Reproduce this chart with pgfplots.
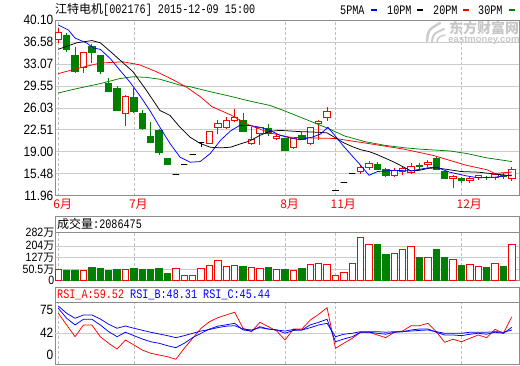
\documentclass[border=0pt]{standalone}
\usepackage{pgfplots}
\pgfplotsset{compat=1.18}
\usepgfplotslibrary{statistics}
\usepackage{fontspec}
\setmainfont{Liberation Sans}
\newfontfamily\cjkf{Noto Sans CJK SC}
\newfontfamily\monof{Liberation Mono}[FakeStretch=0.78]
\newfontfamily\tickf{Liberation Sans}[FakeStretch=0.88]
\newcommand\tk{\tickf\fontsize{13.5pt}{14pt}\selectfont}
\newcommand\tkv{\tickf\fontsize{12pt}{12pt}\selectfont}
\newcommand\cj{\cjkf\fontsize{12pt}{13pt}\selectfont}
\newcommand\wan{\raisebox{0pt}[8pt][0pt]{\cjkf\fontsize{11pt}{11pt}\selectfont 万}}
\newcommand\mo{\monof\fontsize{13pt}{14pt}\selectfont}
\definecolor{dgreen}{HTML}{008000}
\definecolor{mred}{HTML}{FF0000}
\definecolor{mblue}{HTML}{0000FF}
\newcommand\cu[5]{\addplot[up,boxplot prepared={draw position=#1,lower whisker=#4,lower quartile=#2,median=#5,upper quartile=#5,upper whisker=#3}] coordinates {};}
\newcommand\cd[5]{\addplot[dn,boxplot prepared={draw position=#1,lower whisker=#4,lower quartile=#5,median=#5,upper quartile=#2,upper whisker=#3}] coordinates {};}
\newcommand\cf[3]{\addplot[fl,boxplot prepared={draw position=#1,lower whisker=#3,lower quartile=#2,median=#2,upper quartile=#2,upper whisker=#2}] coordinates {};}
\pgfplotsset{
  panel/.style={scale only axis, width=464pt, xmin=-0.39, xmax=54.85,
    axis line style={draw=black!45}, tick style={draw=none}, major tick length=0pt,
    xtick={0,9,27,33,48}, xmajorgrids,
    x grid style={black!25, dash pattern=on 3pt off 2pt},
    y grid style={black!20},
    yticklabel style={font=\tk, inner sep=1.5pt}},
  up/.style={draw=mred, fill=white, line width=0.9pt},
  dn/.style={draw=dgreen, fill=dgreen, line width=0.9pt},
  fl/.style={draw=black, line width=1pt},
}
\begin{document}
\begin{tikzpicture}
\useasboundingbox (0,0) rectangle (520pt,365pt);
% ---------------- price panel ----------------
\begin{axis}[panel, at={(55pt,169.5pt)}, anchor=south west, height=175.5pt,
  ymin=11.96, ymax=40.10,
  ytick={11.96,15.4775,18.995,22.5125,26.03,29.5475,33.065,36.5825,40.10},
  yticklabels={11.96,15.48,19.00,22.51,26.03,29.55,33.07,36.58,40.10},
  ymajorgrids,
  xticklabels={6月,7月,8月,11月,12月},
  xticklabel style={font=\cj, text=mred, anchor=north west, xshift=-5pt, yshift=-3pt, inner sep=0pt},
  boxplot/draw direction=y, boxplot/box extend=0.75, boxplot/whisker extend=0]
\cu{0}{37.00}{38.77}{36.35}{38.12}
\cd{1}{37.69}{37.96}{35.00}{35.39}
\cd{2}{34.47}{35.81}{31.60}{31.79}
\cu{3}{32.49}{35.00}{31.53}{34.91}
\cd{4}{35.92}{36.24}{33.14}{34.91}
\cd{5}{34.47}{34.47}{31.37}{31.79}
\cd{6}{29.92}{30.73}{28.57}{28.57}
\cd{7}{29.12}{29.49}{25.63}{25.63}
\cu{8}{25.10}{28.04}{23.06}{27.77}
\cd{9}{27.67}{29.12}{25.20}{25.36}
\cd{10}{25.10}{25.74}{22.52}{22.78}
\cd{11}{21.45}{23.75}{20.53}{20.53}
\cd{12}{22.41}{22.69}{18.39}{18.92}
\cd{13}{17.86}{17.86}{16.95}{16.95}
\cf{14}{15.33}{15.33}
\cf{15}{16.86}{16.86}
\cf{16}{18.55}{18.55}
\cf{17}{20.40}{19.70}
\cu{18}{20.37}{22.30}{20.37}{22.25}
\cu{19}{22.94}{24.13}{21.88}{23.49}
\cu{20}{22.94}{24.55}{22.69}{24.02}
\cu{21}{24.02}{25.90}{23.75}{24.55}
\cd{22}{24.02}{25.20}{22.30}{22.30}
\cu{23}{20.37}{22.94}{19.98}{20.92}
\cu{24}{21.88}{22.94}{19.98}{22.85}
\cd{25}{22.69}{23.49}{21.45}{21.88}
\cu{26}{21.08}{21.88}{20.80}{21.45}
\cd{27}{21.08}{21.25}{19.10}{19.20}
\cu{28}{19.63}{21.08}{19.48}{21.08}
\cd{29}{21.60}{22.10}{20.80}{20.95}
\cu{30}{20.27}{22.85}{20.00}{22.85}
\cu{31}{23.49}{24.13}{20.92}{23.86}
\cu{32}{24.46}{26.16}{23.90}{25.36}
\cf{33}{12.77}{12.77}
\cf{34}{14.05}{14.05}
\cf{35}{15.45}{15.45}
\cu{36}{15.87}{16.78}{15.45}{16.41}
\cu{37}{16.41}{17.48}{15.98}{17.16}
\cd{38}{16.95}{17.33}{16.10}{16.14}
\cd{39}{16.14}{16.41}{14.90}{15.17}
\cu{40}{15.17}{16.41}{15.00}{15.98}
\cu{41}{15.81}{16.50}{15.17}{16.25}
\cu{42}{15.71}{17.16}{15.45}{16.62}
\cd{43}{16.80}{17.16}{15.98}{16.60}
\cu{44}{16.89}{17.60}{16.60}{17.32}
\cd{45}{17.86}{18.13}{16.14}{16.14}
\cd{46}{15.87}{15.87}{14.64}{14.64}
\cu{47}{14.64}{15.17}{13.14}{15.01}
\cd{48}{14.75}{14.91}{14.00}{14.37}
\cu{49}{14.37}{15.00}{14.00}{14.75}
\cu{50}{14.90}{15.30}{14.50}{15.10}
\cd{51}{14.90}{15.10}{14.50}{14.80}
\cu{52}{14.80}{15.60}{14.50}{15.33}
\cd{53}{15.20}{15.60}{14.60}{15.00}
\cu{54}{14.64}{16.50}{14.30}{16.09}
% MA30 green
\addplot[dgreen, line width=0.75pt] coordinates {(0,28.4) (2.2,29.1) (5,29.9) (7.3,30.7) (8.9,31.0) (10.5,30.9) (12.1,30.6) (14.5,29.65) (15.7,29.4) (18.1,28.6) (20.4,27.9) (22.8,27.1) (25.2,26.4) (26.8,25.6) (29.4,24.2) (31.8,22.9) (34.1,21.5) (36.5,20.6) (38.9,20.0) (41.3,19.6) (43,19.4) (46.6,19.1) (48.6,18.7) (51,18.0) (54,17.4)};
% MA20 red
\addplot[mred, line width=0.75pt] coordinates {(0,31.5) (2.2,32.3) (5,33.2) (7.7,33.4) (9.7,32.9) (11.7,31.8) (13.7,30.5) (15.3,29.3) (16.9,27.8) (18.3,26.2) (20.5,24.9) (22.8,23.2) (25.2,22.0) (27.6,21.3) (30,21.2) (33,21.1) (36.9,20.3) (41.1,19.4) (44.6,18.4) (46.6,17.6) (48.6,16.8) (51,16.1) (52,15.5) (53,15.62) (54,15.72)};
% MA10 black
\addplot[black, line width=0.75pt] coordinates {(0,35.4) (2.2,36.45) (4,36.8) (5,36.45) (6.5,34.7) (8.9,31.8) (10.5,28.8) (12.1,25.6) (13.3,24.8) (14.5,22.9) (15.7,21.3) (16.9,20.3) (18.1,19.7) (19.3,19.6) (20.5,19.7) (21.6,20.2) (22.8,20.7) (24,21.6) (25.2,22.25) (26.4,22.4) (28.8,22.2) (31,22.1) (32,22.0) (33,21.2) (34,20.4) (35,19.8) (36,19.3) (37,19.0) (38,18.5) (39,17.9) (40,17.3) (41,16.6) (42,15.9) (43,16.0) (44,16.3) (45,16.4) (46,16.2) (48,15.8) (50,15.7) (52,15.4) (54,15.12)};
% MA5 blue
\addplot[mblue, line width=0.75pt] coordinates {(0,39.3) (1.2,38.5) (2,37.2) (3.4,36.4) (4.2,35.6) (5,35.4) (6.2,33.9) (7.3,32.1) (8.5,30.2) (9.7,28.0) (10.9,25.6) (12.1,22.9) (13.3,20.3) (14.5,18.1) (15.7,17.3) (16.9,17.4) (18.1,18.7) (19.3,20.8) (20.5,22.3) (21.6,23.2) (22.8,23.2) (24,22.9) (25.2,22.4) (26.4,21.6) (27.6,21.2) (28.8,20.9) (30.2,21.3) (31.2,21.8) (32.1,22.9) (33.1,21.3) (34,19.8) (35,18.3) (36,16.8) (37,15.2) (38,15.8) (40,16.0) (42,15.9) (44,16.4) (45,16.5) (46.6,15.7) (48.6,15.1) (50,14.8) (52,14.9) (54,15.26)};
\end{axis}
% ---------------- volume panel ----------------
\begin{axis}[panel, at={(55pt,84.5pt)}, anchor=south west, height=48pt,
  ymin=-3, ymax=311.8,
  ytick={0,70.2,148.9,224.9,311.5},
  yticklabels={0,50.5\wan,127\wan,204\wan,282\wan},
  yticklabel style={font=\tkv, inner sep=0.5pt},
  ymajorgrids, xticklabels={}]
\addplot[ybar, bar width=0.75, bar shift=0pt, draw=mred, fill=white, line width=0.9pt] coordinates {
(0,72) (3,66) (8,72) (14,79) (15,31) (16,31) (17,74) (18,98) (19,131) (20,90) (21,98) (23,85) (24,79) (26,72) (28,64) (30,105) (31,111) (32,105) (33,31) (34,50) (35,111) (36,280) (37,234) (40,175) (41,203) (42,223) (44,149) (47,138) (49,103) (50,92) (52,111) (54,234)};
\addplot[ybar, bar width=0.75, bar shift=0pt, draw=dgreen, fill=dgreen, line width=0.9pt] coordinates {
(1,66) (2,66) (4,85) (5,74) (6,61) (7,68) (9,74) (10,68) (11,68) (12,74) (13,44) (22,92) (25,81) (27,68) (29,74) (38,236) (39,170) (43,151) (45,199) (46,151) (48,98) (51,85) (53,92)};
\end{axis}
% ---------------- RSI panel ----------------
\begin{axis}[panel, at={(55pt,1pt)}, anchor=south west, height=62pt,
  ymin=9.6, ymax=75,
  ytick={19.1,42,66.6}, yticklabels={0,42,75},
  extra y ticks={42}, extra y tick labels={}, extra y tick style={grid=major},
  xticklabels={}]
\addplot[mred, line width=0.75pt] coordinates {
(0,63.1) (1,50.8) (2,38.4) (3,50.8) (4,50.8) (5,38.4) (6,31.5) (7,25.4) (8,34.9) (9,29.7) (10,24.4) (11,20.9) (12,19.1) (13,17.3) (14,14.6) (15,26.2) (16,36.7) (17,47.3) (18,54.2) (19,58.5) (20,61.3) (21,64.2) (22,47.3) (23,43.7) (24,53.6) (25,49.0) (26,44.4) (27,34.9) (28,46.5) (29,46.5) (30,56.0) (31,62.0) (32,69.0) (33,26.2) (34,31.5) (35,36.7) (36,43.1) (37,43.1) (38,40.2) (39,37.4) (40,43.1) (41,44.4) (42,50.0) (43,50.0) (44,52.5) (45,43.7) (46,32.5) (47,35.7) (48,33.1) (49,36.7) (50,40.2) (51,37.4) (52,46.2) (53,42.0) (54,59.52)};
\addplot[mblue, line width=0.75pt] coordinates {
(0,68.4) (1,57.8) (2,50.8) (3,56.8) (4,56.8) (5,50.8) (6,43.7) (7,38.4) (8,43.1) (9,39.5) (10,36.0) (11,33.1) (12,31.5) (13,28.9) (14,26.8) (15,31.5) (16,37.4) (17,42.0) (18,46.5) (19,49.5) (20,51.0) (21,52.5) (22,45.5) (23,44.4) (24,49.0) (25,46.5) (26,45.5) (27,42.0) (28,45.0) (29,45.5) (30,50.8) (31,53.6) (32,56.8) (33,33.1) (34,36.0) (35,38.4) (36,43.1) (37,43.1) (38,42.0) (39,41.0) (40,43.1) (41,43.7) (42,45.5) (43,46.5) (44,46.5) (45,43.1) (46,40.2) (47,40.2) (48,39.5) (49,41.0) (50,42.0) (51,41.0) (52,43.1) (53,42.0) (54,48.31)};
\addplot[mblue, line width=0.75pt] coordinates {
(0,70.8) (1,63.1) (2,57.8) (3,61.3) (4,61.3) (5,57.1) (6,51.5) (7,47.3) (8,49.7) (9,47.3) (10,45.2) (11,43.1) (12,41.3) (13,39.5) (14,37.4) (15,39.5) (16,42.0) (17,44.4) (18,46.0) (19,48.0) (20,49.5) (21,50.0) (22,46.5) (23,45.5) (24,47.9) (25,46.5) (26,45.5) (27,44.4) (28,46.0) (29,45.5) (30,47.9) (31,50.8) (32,52.5) (33,38.4) (34,41.0) (35,42.0) (36,43.7) (37,43.7) (38,43.7) (39,43.1) (40,43.7) (41,43.7) (42,44.4) (43,45.0) (44,45.5) (45,43.7) (46,42.0) (47,42.0) (48,42.0) (49,43.1) (50,43.1) (51,43.1) (52,43.7) (53,43.1) (54,45.44)};
\end{axis}
% ---------------- headers and texts ----------------
\draw[black!45, fill=white] (55pt,132.5pt) rectangle (519pt,149pt);
\node[anchor=west, inner sep=0pt] at (57pt,141pt) {\cj 成交量\mo :2086475};
\draw[black!45, fill=white] (55pt,63pt) rectangle (519pt,78pt);
\node[anchor=west, inner sep=0pt] at (57pt,70.5pt) {\mo\textcolor{mred}{RSI\_A:59.52} \textcolor{mblue}{RSI\_B:48.31} \textcolor{mblue}{RSI\_C:45.44}};
\node[anchor=west, inner sep=0pt] at (55pt,355pt) {\cj 江特电机\mo [002176] 2015-12-09 15:00};
\node[anchor=west, inner sep=0pt] at (340pt,355pt) {\mo 5PMA};
\fill[mblue] (371pt,353.5pt) rectangle (377pt,356pt);
\node[anchor=west, inner sep=0pt] at (387pt,355pt) {\mo 10PM};
\fill[black] (417pt,353.5pt) rectangle (423pt,356pt);
\node[anchor=west, inner sep=0pt] at (433pt,355pt) {\mo 20PM};
\fill[mred] (463pt,353.5pt) rectangle (469pt,356pt);
\node[anchor=west, inner sep=0pt] at (478pt,355pt) {\mo 30PM};
\fill[dgreen] (509pt,353.5pt) rectangle (515pt,356pt);
% watermark
\draw[black!20, line width=2.5pt, line cap=round] (427pt,324pt) .. controls (428pt,335pt) .. (440pt,342pt);
\draw[black!20, line width=2pt, line cap=round] (432pt,323pt) .. controls (433pt,331pt) .. (444pt,336pt);
\draw[black!20, line width=1.5pt, line cap=round] (437pt,323pt) .. controls (438pt,328pt) .. (445pt,330pt);
\node[text=black!22, inner sep=0pt] at (484pt,336.5pt) {\cjkf\bfseries\fontsize{14pt}{14pt}\selectfont 东方财富网};
\node[text=black!22, inner sep=0pt] at (484pt,324.5pt) {\bfseries\fontsize{9.5pt}{10pt}\selectfont eastmoney.com};
\end{tikzpicture}
\end{document}
